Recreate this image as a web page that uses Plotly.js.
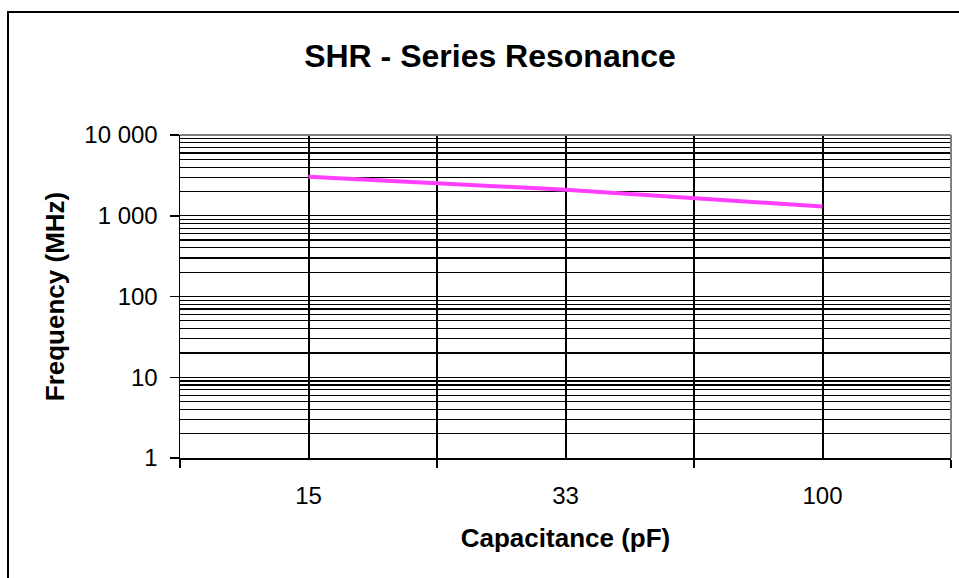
<!DOCTYPE html>
<html>
<head>
<meta charset="utf-8">
<script src="https://cdn.plot.ly/plotly-3.0.1.min.js"></script>
<style>
html,body{margin:0;padding:0;background:#fff;}
#chart{width:959px;height:578px;}
</style>
</head>
<body>
<div id="chart"></div>
<script>
// Data
var categories = ['15', '33', '100'];          // Capacitance (pF)
var catIndex = [0, 1, 2];
var frequency = [3050, 2100, 1300];             // Series resonance frequency (MHz)
var yTickVals = [1, 10, 100, 1000, 10000];
var yTickText = ['1', '10', '100', '1 000', '10 000'];

var W = 959, H = 578;
var L = 180, R = 951, T = 135, B = 458;
function px(x){ return (x - L) / (R - L); }
function py(y){ return (B - y) / (B - T); }

var trace = {
  x: catIndex,
  y: frequency,
  type: 'scatter',
  mode: 'lines',
  line: {color: '#FF3FFF', width: 4},
  hoverinfo: 'skip',
  showlegend: false
};

var font = 'Liberation Sans, Arial, sans-serif';

var layout = {
  width: W, height: H,
  paper_bgcolor: '#ffffff',
  plot_bgcolor: '#ffffff',
  margin: {l: L, r: W - R, t: T, b: H - B, pad: 0},
  font: {family: font, color: '#000', size: 24},
  title: {
    text: '<b>SHR - Series Resonance</b>',
    font: {family: font, size: 32, color: '#000'},
    xref: 'container', yref: 'container',
    x: 490 / W, xanchor: 'center',
    y: 1 - 56 / H, yanchor: 'middle'
  },
  xaxis: {
    type: 'linear',
    range: [-0.5, 2.5],
    tickmode: 'array',
    tickvals: catIndex,
    ticktext: categories,
    ticks: '',
    ticklabelstandoff: 16,
    tickfont: {family: font, size: 24, color: '#000'},
    showgrid: true,
    gridcolor: '#000',
    gridwidth: 2,
    showline: true,
    linecolor: '#000',
    linewidth: 1.5,
    zeroline: false,
    fixedrange: true,
    minor: {
      tick0: -0.5, dtick: 1,
      ticks: 'outside', ticklen: 8, tickwidth: 1.5, tickcolor: '#000',
      showgrid: true, gridcolor: '#000', gridwidth: 2
    },
    title: {
      text: '<b>Capacitance (pF)</b>',
      font: {family: font, size: 26, color: '#000'},
      standoff: 20
    }
  },
  yaxis: {
    type: 'log',
    range: [0, 4],
    tickmode: 'array',
    tickvals: yTickVals,
    ticktext: yTickText,
    ticks: 'outside',
    ticklen: 9,
    tickwidth: 1.5,
    tickcolor: '#000',
    ticklabelstandoff: 7,
    tickfont: {family: font, size: 24, color: '#000'},
    showgrid: true,
    gridcolor: '#000',
    gridwidth: 1.3,
    showline: true,
    linecolor: '#000',
    linewidth: 1.5,
    zeroline: false,
    fixedrange: true,
    minor: {
      dtick: 'D1',
      ticks: '',
      showgrid: true, gridcolor: '#000', gridwidth: 1.2
    },
    title: {
      text: '<b>Frequency (MHz)</b>',
      font: {family: font, size: 26, color: '#000'},
      standoff: 12
    }
  },
  shapes: [
    // outer chart frame (extends beyond the right and bottom edges)
    {type: 'rect', xref: 'paper', yref: 'paper',
     x0: px(8), x1: px(990), y0: py(620), y1: py(12),
     line: {color: '#000', width: 2}, fillcolor: 'rgba(0,0,0,0)', layer: 'below'},
    // plot-area top and right border (grey)
    {type: 'line', xref: 'paper', yref: 'paper', x0: 0, x1: 1, y0: 1, y1: 1,
     line: {color: '#808080', width: 2}, layer: 'above'},
    {type: 'line', xref: 'paper', yref: 'paper', x0: 1, x1: 1, y0: 0, y1: 1,
     line: {color: '#808080', width: 2}, layer: 'above'}
  ]
};

Plotly.newPlot('chart', [trace], layout, {staticPlot: true, displayModeBar: false});
</script>
</body>
</html>
